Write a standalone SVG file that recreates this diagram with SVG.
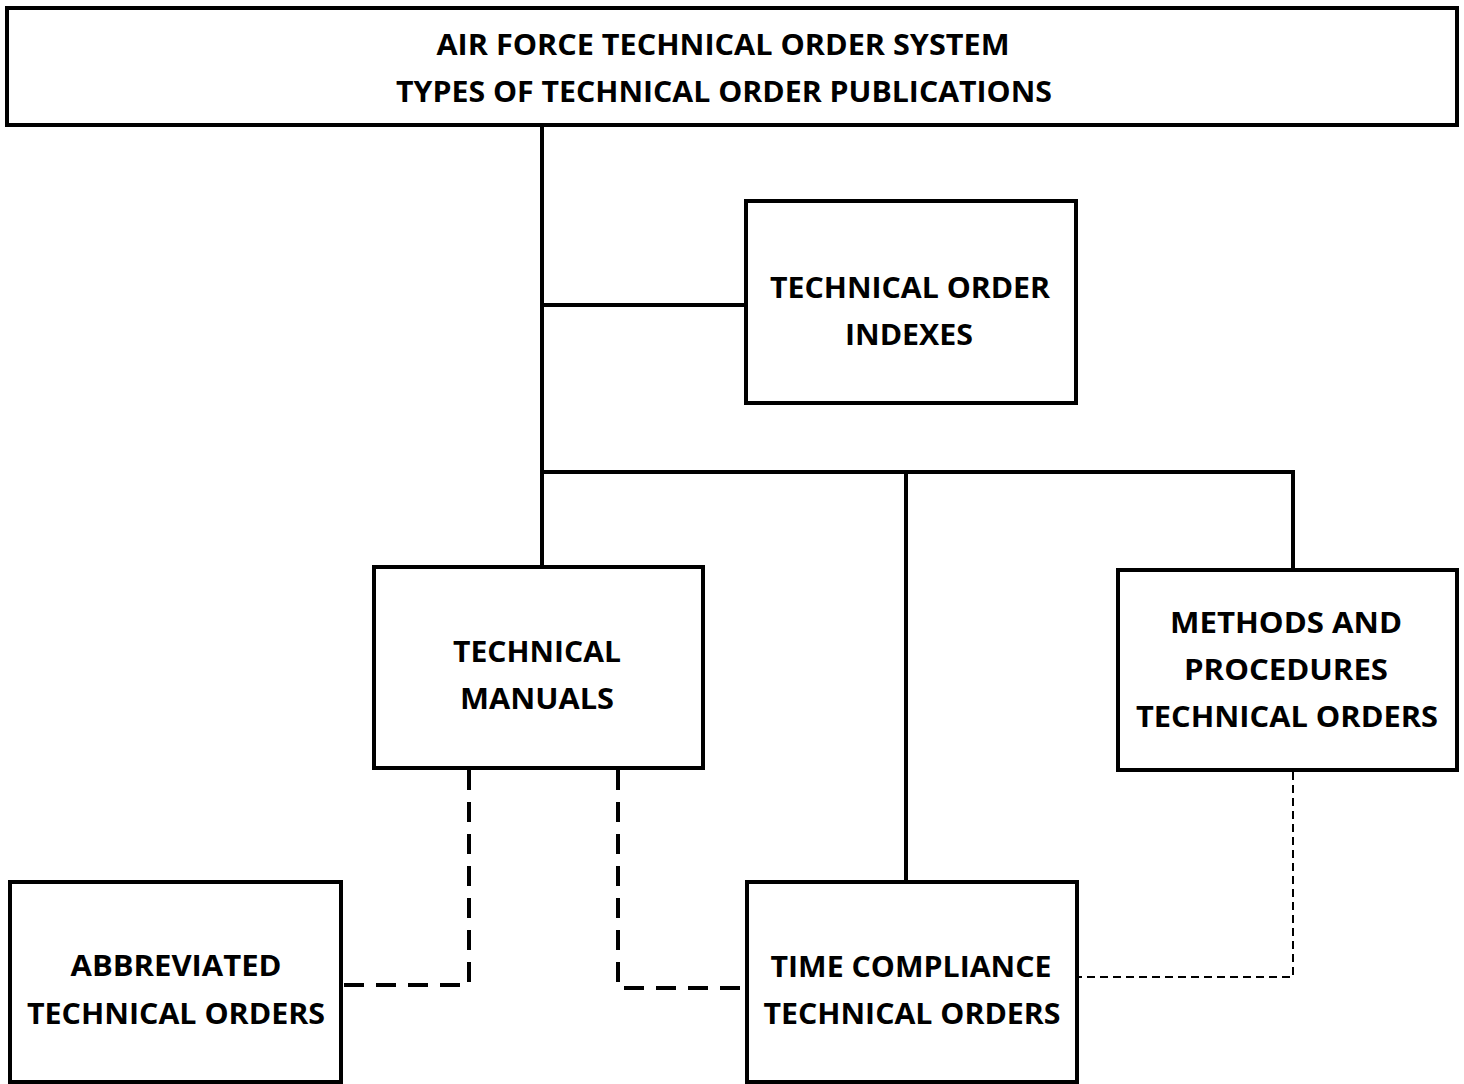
<svg xmlns="http://www.w3.org/2000/svg" width="1464" height="1084" viewBox="0 0 1464 1084">
<style>
.box{fill:#fff;stroke:#000;stroke-width:4}
.t{font-family:"Open Sans","Liberation Sans",sans-serif;font-weight:bold;font-size:28px;fill:#000;text-anchor:middle}
.solid{fill:none;stroke:#000;stroke-width:4}
.dash{fill:none;stroke:#000;stroke-width:4;stroke-dasharray:20 12}
.thin{fill:none;stroke:#000;stroke-width:2;stroke-dasharray:8 5}
</style>
<rect width="1464" height="1084" fill="#fff"/>
<g id="connectors">
<path class="solid" d="M542 125V567M542 305H746M542 472H1293V570M906 472V882"/>
<path class="dash" d="M469 770V985H341"/>
<path class="dash" d="M618 770V988H747"/>
<path class="thin" d="M1293 772V977H1077"/>
</g>
<g id="title">
<rect class="box" x="7" y="8" width="1450" height="117"/>
<text class="t" x="723" y="55" textLength="573" lengthAdjust="spacingAndGlyphs">AIR FORCE TECHNICAL ORDER SYSTEM</text>
<text class="t" x="724" y="102" textLength="656" lengthAdjust="spacingAndGlyphs">TYPES OF TECHNICAL ORDER PUBLICATIONS</text>
</g>
<g id="indexes">
<rect class="box" x="746" y="201" width="330" height="202"/>
<text class="t" x="910" y="298" textLength="280" lengthAdjust="spacingAndGlyphs">TECHNICAL ORDER</text>
<text class="t" x="909" y="345" textLength="128" lengthAdjust="spacingAndGlyphs">INDEXES</text>
</g>
<g id="manuals">
<rect class="box" x="374" y="567" width="329" height="201"/>
<text class="t" x="537" y="662" textLength="168" lengthAdjust="spacingAndGlyphs">TECHNICAL</text>
<text class="t" x="537" y="709" textLength="154" lengthAdjust="spacingAndGlyphs">MANUALS</text>
</g>
<g id="methods">
<rect class="box" x="1118" y="570" width="339" height="200"/>
<text class="t" x="1286" y="633" textLength="232" lengthAdjust="spacingAndGlyphs">METHODS AND</text>
<text class="t" x="1286" y="680" textLength="204" lengthAdjust="spacingAndGlyphs">PROCEDURES</text>
<text class="t" x="1287" y="727" textLength="302" lengthAdjust="spacingAndGlyphs">TECHNICAL ORDERS</text>
</g>
<g id="abbreviated">
<rect class="box" x="10" y="882" width="331" height="200"/>
<text class="t" x="176" y="976" textLength="211" lengthAdjust="spacingAndGlyphs">ABBREVIATED</text>
<text class="t" x="176" y="1024" textLength="298" lengthAdjust="spacingAndGlyphs">TECHNICAL ORDERS</text>
</g>
<g id="timecompliance">
<rect class="box" x="747" y="882" width="330" height="200"/>
<text class="t" x="911" y="977" textLength="281" lengthAdjust="spacingAndGlyphs">TIME COMPLIANCE</text>
<text class="t" x="912" y="1024" textLength="297" lengthAdjust="spacingAndGlyphs">TECHNICAL ORDERS</text>
</g>
</svg>
